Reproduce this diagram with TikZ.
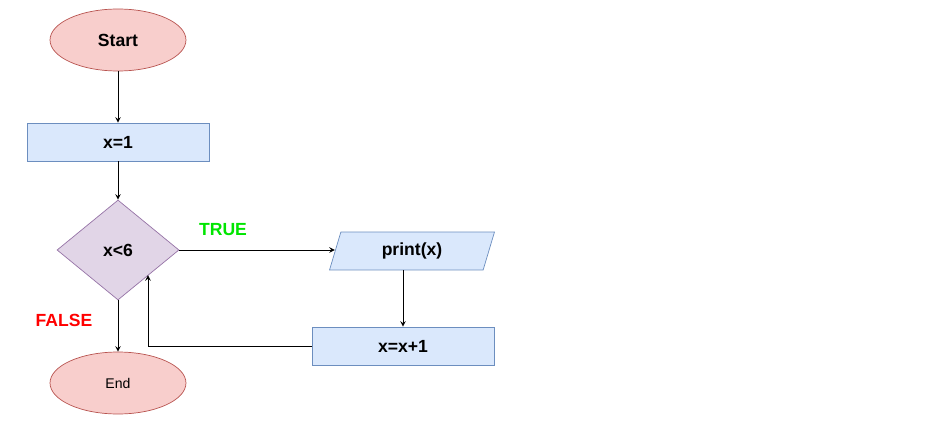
\documentclass[tikz,border=0pt]{standalone}
\usepackage{fontspec}
\setmainfont{Liberation Sans}
\usetikzlibrary{shapes.geometric}
\definecolor{redfill}{HTML}{F8CECC}
\definecolor{redline}{HTML}{B85450}
\definecolor{bluefill}{HTML}{DAE8FC}
\definecolor{blueline}{HTML}{6C8EBF}
\definecolor{purplefill}{HTML}{E1D5E7}
\definecolor{purpleline}{HTML}{9673A6}
\tikzset{
  terminal/.style={ellipse,draw=redline,fill=redfill,minimum width=2.72cm,minimum height=1.24cm},
  process/.style={rectangle,draw=blueline,fill=bluefill,minimum width=3.64cm,minimum height=0.76cm,font=\bfseries},
  decision/.style={diamond,draw=purpleline,fill=purplefill,minimum width=2.44cm,minimum height=2cm,inner sep=0pt,aspect=1.22,font=\bfseries},
  inout/.style={trapezium,trapezium left angle=68,trapezium right angle=112,trapezium stretches body,draw=blueline,fill=bluefill,minimum width=3.3cm,minimum height=0.76cm,font=\bfseries},
  flow/.style={->,>=stealth,thin}
}
\begin{document}
\begin{tikzpicture}[x=0.02cm,y=-0.02cm,font=\fontsize{8}{10}\selectfont]
\useasboundingbox (0,0) rectangle (940,426);
\node [terminal,font=\bfseries] (start) at (118,40) {Start};
\node [process] (init) at (118,142) {x=1};
\node [decision] (test) at (118,250) {x<6};
\node [inout] (out) at (412,251) {print(x)};
\node [process] (incr) at (403,346) {x=x+1};
\node [terminal] (stop) at (118,383) {End};
\coordinate (back) at (148,346);
\draw [flow] (start) -- (init);
\draw [flow] (init) -- (test);
\draw [flow] (test.east) -- (out.west |- test.east);
\draw [flow] (out.south -| incr.north) -- (incr.north);
\draw [flow] (incr.west) -- (back) -- (back |- test.south east);
\draw [flow] (test) -- (stop);
\node [text=green!90!black,font=\bfseries] at (223,230) {TRUE};
\node [text=red,font=\bfseries] at (64,320) {FALSE};
\end{tikzpicture}
\end{document}
